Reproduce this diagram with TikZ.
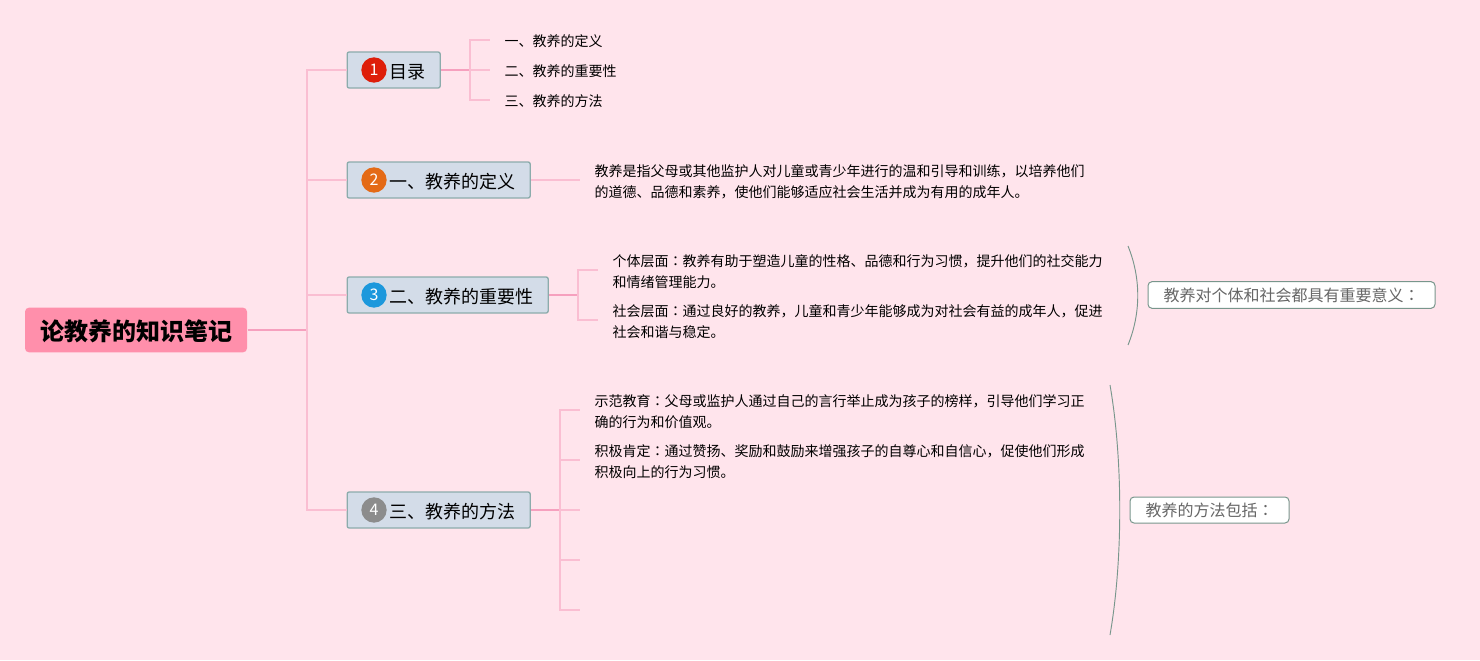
\documentclass[tikz,border=0pt]{standalone}
\usepackage{fontspec}
\setmainfont{Noto Sans CJK SC}
\newfontfamily\colonfont{Noto Sans CJK TC}
\newcommand{\zhcolon}{{\colonfont ：}}
\definecolor{paper}{RGB}{255,228,236}
\definecolor{rootpink}{RGB}{255,143,171}
\definecolor{stem}{RGB}{250,190,210}
\definecolor{stemdark}{RGB}{246,160,190}
\definecolor{boxfill}{RGB}{211,220,232}
\definecolor{boxline}{RGB}{140,172,172}
\definecolor{arcline}{RGB}{120,150,140}
\tikzset{every picture/.style={line width=0.75pt}}
\tikzset{
rootbox/.style={fill=rootpink, rounded corners=3pt, inner sep=0pt, minimum width=166.5pt, minimum height=33.5pt, text height=18pt, text depth=2.8pt, font=\fontsize{18}{20}\selectfont\bfseries},
branchbox/.style={draw=boxline, fill=boxfill, rounded corners=1.5pt, line width=1pt, anchor=west, inner sep=0pt, minimum height=27pt, text height=14.5pt, text depth=2pt, font=\fontsize{13.5}{16}\selectfont},
badge/.style={circle, inner sep=0pt, minimum size=19pt, text=white, font=\fontsize{12}{14}\selectfont},
leaf/.style={anchor=west, inner ysep=0pt, inner xsep=10.5pt, align=left, font=\fontsize{10.5}{15.75}\selectfont},
sumbox/.style={draw=arcline, fill=white, rounded corners=3pt, anchor=west, inner sep=0pt, text=black!60, font=\fontsize{12}{14}\selectfont},
stemline/.style={draw=stem, line width=1.1pt},
rootline/.style={draw=stemdark, line width=1.5pt},
arcmark/.style={draw=arcline, line width=0.7pt}}

\begin{document}
\begin{tikzpicture}[x=0.75pt,y=0.75pt,yscale=-1,xscale=1]
\useasboundingbox (0,0) rectangle (1480,660);
\fill [paper] (0,0) rectangle (1480,660);

% Text Node
\node [rootbox] (root) at (136,330) {论教养的知识笔记};
% Branches
\node [branchbox, minimum width=69.75pt] (toc) at (346.5,70) {\hspace*{20.25pt}目录};
\node [badge, fill={rgb, 255:red, 222; green, 30; blue, 10 }] (tocnum) at (374,70) {1};
\node [branchbox, minimum width=137.25pt] (define) at (346.5,180) {\hspace*{20.25pt}一、教养的定义};
\node [badge, fill={rgb, 255:red, 228; green, 106; blue, 22 }] (definenum) at (374,180) {2};
\node [branchbox, minimum width=150.75pt] (value) at (346.5,295) {\hspace*{20.25pt}二、教养的重要性};
\node [badge, fill={rgb, 255:red, 28; green, 152; blue, 220 }] (valuenum) at (374,295) {3};
\node [branchbox, minimum width=137.25pt] (method) at (346.5,510) {\hspace*{20.25pt}三、教养的方法};
\node [badge, fill={rgb, 255:red, 140; green, 140; blue, 140 }] (methodnum) at (374,510) {4};

% Text Node
\node [leaf] (tocone) at (490,41.5) {一、教养的定义};
\node [leaf] (toctwo) at (490,71.5) {二、教养的重要性};
\node [leaf] (tocthree) at (490,101.5) {三、教养的方法};
\node [leaf] (definetext) at (580,182) {教养是指父母或其他监护人对儿童或青少年进行的温和引导和训练，以培养他们\\的道德、品德和素养，使他们能够适应社会生活并成为有用的成年人。};
\node [leaf] (valueone) at (598,272) {个体层面\zhcolon 教养有助于塑造儿童的性格、品德和行为习惯，提升他们的社交能力\\和情绪管理能力。};
\node [leaf] (valuetwo) at (598,322) {社会层面\zhcolon 通过良好的教养，儿童和青少年能够成为对社会有益的成年人，促进\\社会和谐与稳定。};
\node [leaf] (methodone) at (580,412) {示范教育\zhcolon 父母或监护人通过自己的言行举止成为孩子的榜样，引导他们学习正\\确的行为和价值观。};
\node [leaf] (methodtwo) at (580,462) {积极肯定\zhcolon 通过赞扬、奖励和鼓励来增强孩子的自尊心和自信心，促使他们形成\\积极向上的行为习惯。};
\node [sumbox, minimum width=215.25pt, minimum height=20pt] (valuesum) at (1147.5,295) {教养对个体和社会都具有重要意义\zhcolon};
\node [sumbox, minimum width=119.25pt, minimum height=19.5pt] (methodsum) at (1129.5,510) {教养的方法包括\zhcolon};

% Free ends
\coordinate (trunk) at (307,330);
\coordinate (tocfork) at (470,70);
\coordinate (valuefork) at (578,295);
\coordinate (methodfork) at (560,510);
\coordinate (toctipa) at (490,40);
\coordinate (toctipb) at (490,70);
\coordinate (toctipc) at (490,100);
\coordinate (definetip) at (580,180);
\coordinate (valuetipa) at (598,270);
\coordinate (valuetipb) at (598,320);
\coordinate (methodtipa) at (580,410);
\coordinate (methodtipb) at (580,460);
\coordinate (methodtipc) at (580,510);
\coordinate (methodtipd) at (580,560);
\coordinate (methodtipe) at (580,610);
\coordinate (valuetop) at (1128,246);
\coordinate (valuebot) at (1128,345);
\coordinate (methodtop) at (1110,385);
\coordinate (methodbot) at (1110,635);

%Straight Lines
\draw [rootline] (root.east) -- (trunk);
\foreach \target in {toc,define,value,method}
  \draw [stemline] (trunk) |- (\target.west);
\draw [rootline] (toc.east) -- (tocfork);
\foreach \target in {toctipa,toctipb,toctipc}
  \draw [stemline] (tocfork) |- (\target);
\draw [stemline] (define.east) -- (definetip);
\draw [rootline] (value.east) -- (valuefork);
\foreach \target in {valuetipa,valuetipb}
  \draw [stemline] (valuefork) |- (\target);
\draw [rootline] (method.east) -- (methodfork);
\foreach \target in {methodtipa,methodtipb,methodtipc,methodtipd,methodtipe}
  \draw [stemline] (methodfork) |- (\target);

%Curve Lines
\draw [arcmark] (valuetop) .. controls (1141,278) and (1141,313) .. (valuebot);
\draw [arcmark] (methodtop) .. controls (1123,460) and (1123,560) .. (methodbot);

\end{tikzpicture}
\end{document}
